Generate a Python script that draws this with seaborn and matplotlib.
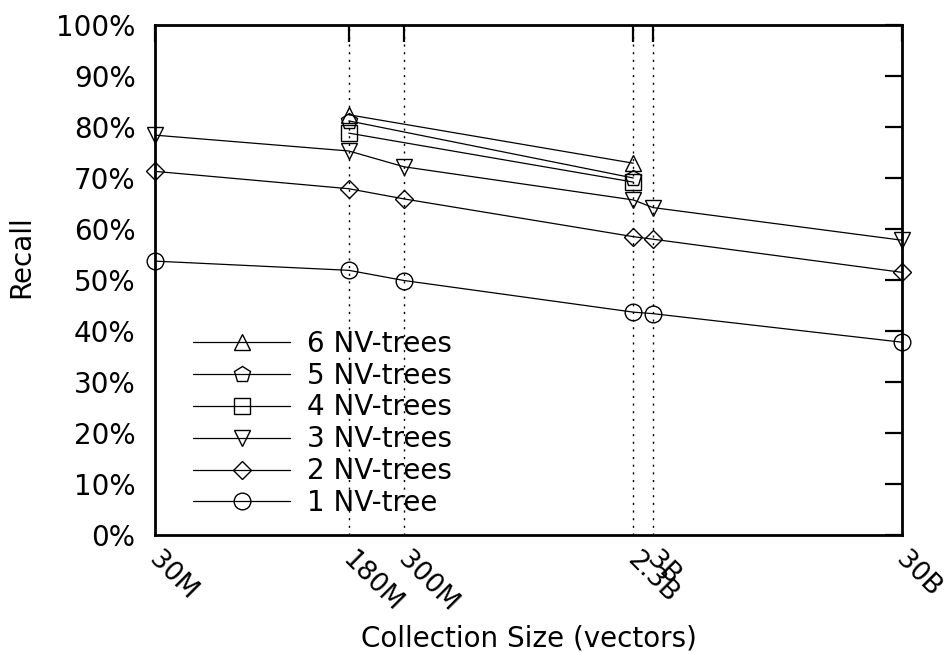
import numpy as np
import pandas as pd
import matplotlib
matplotlib.use("Agg")
import matplotlib.pyplot as plt
import matplotlib.transforms as mtransforms
import seaborn as sns

# ---- data ----
tick_positions = [30e6, 180e6, 300e6, 2.5e9, 3e9, 30e9]
tick_labels = ["30M", "180M", "300M", "2.3B", "3B", "30B"]
guide_positions = [180e6, 300e6, 2.5e9, 3e9]

x_6 = [180e6, 2.5e9]
y_6 = [82.4, 72.9]
x_5 = [180e6, 2.5e9]
y_5 = [81.2, 70.0]
x_4 = [180e6, 2.5e9]
y_4 = [78.8, 69.2]
x_3 = [30e6, 180e6, 300e6, 2.5e9, 3e9, 30e9]
y_3 = [78.4, 75.3, 72.2, 65.7, 64.2, 57.8]
x_2 = [30e6, 180e6, 300e6, 2.5e9, 3e9, 30e9]
y_2 = [71.3, 67.9, 65.9, 58.5, 58.0, 51.5]
x_1 = [30e6, 180e6, 300e6, 2.5e9, 3e9, 30e9]
y_1 = [53.7, 51.9, 49.9, 43.7, 43.4, 37.8]

series = [
    ("6 NV-trees", x_6, y_6, "^"),
    ("5 NV-trees", x_5, y_5, "p"),
    ("4 NV-trees", x_4, y_4, "s"),
    ("3 NV-trees", x_3, y_3, "v"),
    ("2 NV-trees", x_2, y_2, "D"),
    ("1 NV-tree", x_1, y_1, "o"),
]
marker_sizes = {"^": 12, "p": 12, "s": 12, "v": 12, "D": 9, "o": 12}

sns.set_style("white")
plt.rcParams["font.family"] = ["DejaVu Sans"]
plt.rcParams["text.color"] = "black"
plt.rcParams["axes.labelcolor"] = "black"
plt.rcParams["xtick.color"] = "black"
plt.rcParams["ytick.color"] = "black"

fig = plt.figure(figsize=(9.46, 6.53), dpi=100)
ax = fig.add_axes([155 / 946, (653 - 535) / 653, (902 - 155) / 946, 510 / 653])

for gx in guide_positions:
    ax.plot([gx, gx], [0, 100], color="black", lw=1.0,
            linestyle=(0, (1.5, 4)), zorder=1)

for label, xs, ys, mk in series:
    df = pd.DataFrame({"x": xs, "y": ys})
    sns.lineplot(data=df, x="x", y="y", ax=ax, color="black", lw=0.9,
                 marker=mk, markersize=marker_sizes[mk],
                 markerfacecolor="none", markeredgecolor="black",
                 markeredgewidth=1.0, label=label, zorder=3, clip_on=False)

ax.set_xscale("log")
ax.set_xlim(30e6, 30e9)
ax.set_ylim(0, 100)
ax.minorticks_off()

ax.tick_params(axis="both", which="major", direction="in", length=12,
               width=1.6, top=True, right=True, color="black")
ax.tick_params(axis="x", pad=8)
ax.tick_params(axis="y", pad=14)

ax.set_xticks(tick_positions)
ax.set_xticklabels(tick_labels, rotation=-45, ha="left", va="top",
                   rotation_mode="anchor", fontsize=19)
offset = mtransforms.ScaledTranslation(7 / 100, -1 / 100, fig.dpi_scale_trans)
for t in ax.get_xticklabels():
    t.set_transform(t.get_transform() + offset)
ax.set_yticks(np.arange(0, 101, 10))
ax.set_yticklabels([f"{v}%" for v in range(0, 101, 10)], fontsize=20)

for sp in ax.spines.values():
    sp.set_linewidth(2.0)
    sp.set_color("black")

ax.set_xlabel("Collection Size (vectors)", fontsize=20)
ax.set_ylabel("Recall", fontsize=20)
ax.xaxis.set_label_coords(0.5, -0.175)
ax.xaxis.label.set_va("top")
ax.yaxis.set_label_coords(-0.16, 0.545)

ax.legend(loc="lower left", bbox_to_anchor=(38 / 747, 0.035), frameon=False,
          fontsize=20, handlelength=3.5, handletextpad=0.6, labelspacing=0.14,
          borderaxespad=0, borderpad=0)

fig.savefig("out.png", dpi=100)
